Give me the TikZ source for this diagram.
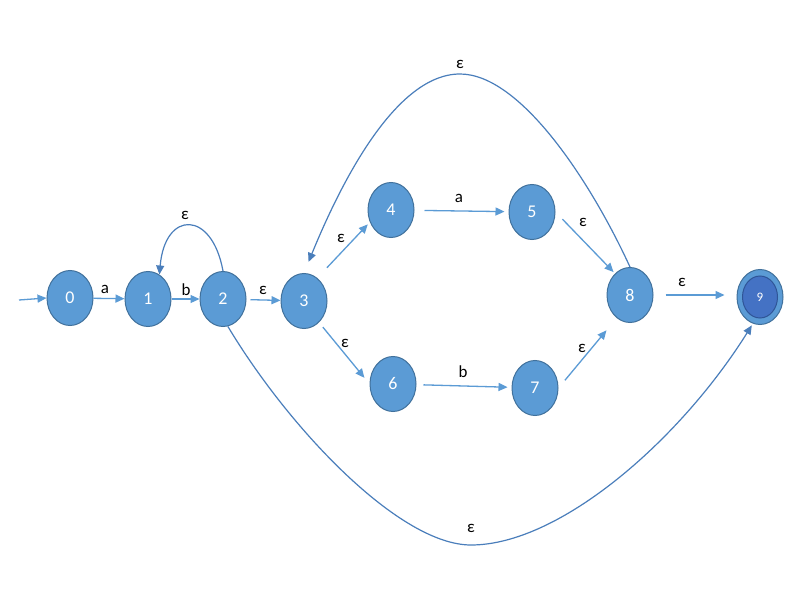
\documentclass[tikz,border=0pt]{standalone}
\usepackage{fontspec}
\setmainfont{Carlito}
\usetikzlibrary{arrows.meta,shapes.geometric}
\definecolor{nodefill}{HTML}{5B9BD5}
\definecolor{nodeedge}{HTML}{41719C}
\definecolor{arrowc}{HTML}{5B9BD5}
\definecolor{curvec}{HTML}{4A7EBB}
\definecolor{innerfill}{HTML}{4472C4}
\definecolor{inneredge}{HTML}{2F5597}
\begin{document}
\begin{tikzpicture}[x=1bp,y=-1bp,
  state/.style={ellipse,draw=nodeedge,line width=1bp,fill=nodefill,
    minimum width=46bp,minimum height=55bp,inner sep=0pt,
    text=white,font=\fontsize{18}{18}\selectfont},
  inner9/.style={ellipse,draw=inneredge,line width=1bp,fill=innerfill,
    minimum width=35bp,minimum height=42bp,inner sep=0pt,
    text=white,font=\fontsize{13}{13}\selectfont},
  lbl/.style={inner sep=0pt,font=\fontsize{17}{17}\selectfont,text=black},
  arr/.style={draw=arrowc,line width=1.3bp,-{Triangle[length=9bp,width=8bp]}},
  crv/.style={draw=curvec,line width=1.2bp,-{Triangle[length=9bp,width=8bp]}}]
\useasboundingbox[fill=white] (0,0) rectangle (800,600);

% states
\node[state] (n0) at (70,298) {0};
\node[state] (n1) at (148,299) {1};
\node[state] (n2) at (223,299) {2};
\node[state] (n3) at (304,301) {3};
\node[state] (n4) at (391,210) {4};
\node[state] (n5) at (532,212) {5};
\node[state] (n6) at (393,384) {6};
\node[state] (n7) at (535,388) {7};
\node[state] (n8) at (630,295) {8};
\node[state] (n9) at (760,297) {};
\node[inner9] (n9i) at (n9) {9};

\coordinate (start) at (19,300);
\coordinate (topc) at (460,74);
\coordinate (botc) at (471,545);

% straight transitions
\draw[arr] (start) -- (n0.west);
\draw[arr] (n0) -- (n1);
\draw[arr] (n1) -- (n2);
\draw[arr,shorten <=4bp] (n2) -- (n3);
\draw[arr,shorten <=14bp,shorten >=3bp] (n3.60) -- (n4.210);
\draw[arr,shorten <=10bp,shorten >=4bp] (n4) -- (n5);
\draw[arr,shorten <=10bp,shorten >=2bp] (n5.east) -- (n8.125);
\draw[arr,shorten <=6bp,shorten >=8bp] (n3.-55) -- (n6.west);
\draw[arr,shorten <=7bp,shorten >=4bp] (n6) -- (n7);
\draw[arr,shorten <=10bp,shorten >=16bp] (n7.east) -- (n8.240);
\draw[arr,shorten <=12bp,shorten >=12bp] (n8.east) -- (n8.east -| n9.west);

% curved transitions
\draw[crv] (n2.north) .. controls (212,210) and (165,210) .. (n1.65);
\draw[crv,shorten >=12bp] (n8.north) .. controls (590,180) and (520,74) .. (topc)
  .. controls (395,74) and (340,185) .. (n3.north);
\draw[crv,shorten >=2bp] (n2.-80) .. controls (290,430) and (400,545) .. (botc)
  .. controls (560,545) and (680,440) .. (n9.-105);

% labels
\node[lbl] (la1) at (105,289) {a};
\node[lbl] (lb1) at (186,290) {b};
\node[lbl] (le23) at (263,290) {ε};
\node[lbl] (le21) at (185,215) {ε};
\node[lbl] (le34) at (341,238) {ε};
\node[lbl] (le36) at (345,343) {ε};
\node[lbl] (la2) at (459,198) {a};
\node[lbl] (le58) at (583,222) {ε};
\node[lbl] (lb2) at (463,372) {b};
\node[lbl] (le78) at (582,348) {ε};
\node[lbl] (le89) at (682,282) {ε};
\node[lbl] (letop) at (460,64) {ε};
\node[lbl] (lebot) at (471,528) {ε};
\end{tikzpicture}
\end{document}
